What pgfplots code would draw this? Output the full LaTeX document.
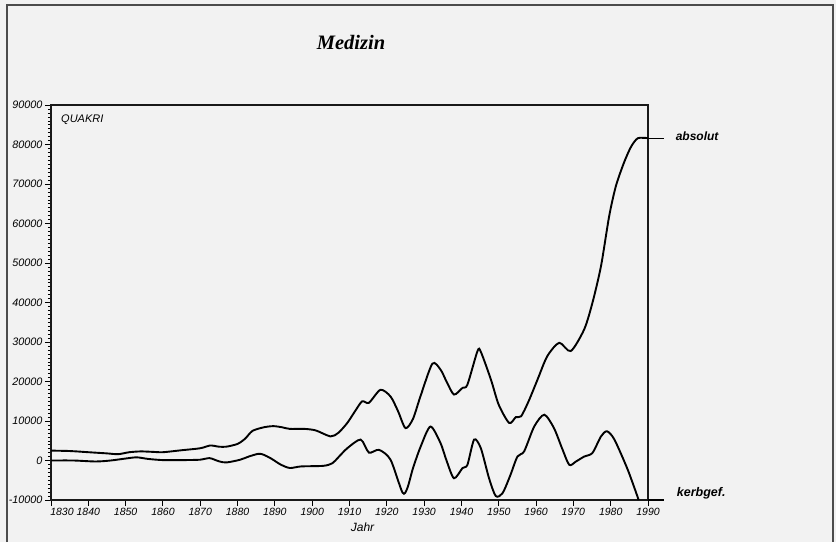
\documentclass[border=0pt]{standalone}
\usepackage{pgfplots}
\pgfplotsset{compat=1.18}
\usepackage{fontspec}
\setmainfont{Liberation Sans}
\newfontfamily\titlefont{Liberation Serif}
\begin{document}
\begin{tikzpicture}[x=1pt,y=1pt]
\useasboundingbox[fill=black!5] (0,0) rectangle (836,542);
\draw[black!70,line width=1.5pt] (7,0) -- (7,537) -- (833,537) -- (833,0);
\node[font=\titlefont\bfseries\itshape\fontsize{20.5}{22}\selectfont] at (351,500) {Medizin};
\begin{axis}[
  at={(51pt,42pt)}, anchor=south west,
  scale only axis, width=597pt, height=395pt,
  xmin=1830, xmax=1990, ymin=-10000, ymax=90000,
  axis line style={line width=1.7pt,black!90},
  xtick={1830,1840,1850,1860,1870,1880,1890,1900,1910,1920,1930,1940,1950,1960,1970,1980,1990},
  xticklabels={\hspace*{22pt}1830,1840,1850,1860,1870,1880,1890,1900,1910,1920,1930,1940,1950,1960,1970,1980,1990},
  ytick={-10000,0,10000,20000,30000,40000,50000,60000,70000,80000,90000},
  yticklabels={-10000,0,10000,20000,30000,40000,50000,60000,70000,80000,90000},
  minor y tick num=9,
  tick align=outside, xtick pos=bottom, ytick pos=left,
  major tick length=6pt, minor tick length=3pt,
  every major tick/.style={line width=0.9pt,black},
  every minor tick/.style={line width=0.5pt,black},
  xticklabel style={font=\itshape\fontsize{10.5}{11}\selectfont, yshift=1pt},
  yticklabel style={font=\itshape\fontsize{10.8}{11}\selectfont, xshift=1pt},
  scaled y ticks=false,
  clip=false,
]
\addplot[black,line width=1.9pt,smooth,tension=0.45] coordinates {
(1830,2500) (1835,2400) (1840,2100) (1845,1800) (1848,1600) (1851,2100) (1854,2300)
(1857,2200) (1860,2100) (1865,2600) (1870,3100) (1872.7,3800) (1875,3500) (1877,3500)
(1880,4200) (1882,5500) (1884,7500) (1887,8400) (1889.6,8700) (1892,8400) (1894,8000)
(1898,8000) (1901,7600) (1904.9,6100) (1907,7000) (1909.4,9500) (1911.5,12500)
(1913.4,15000) (1915.2,14600) (1918.3,17900) (1921,16200) (1923,12500) (1925,8200)
(1927,10500) (1929,16200) (1932.2,24500) (1934.4,23000) (1936,20000) (1938,16700)
(1940.3,18400) (1941.6,19200) (1944.3,27700) (1945.2,27500) (1947.9,20500) (1950,14100)
(1952.8,9500) (1954.6,11000) (1956,11200) (1958,15000) (1960.4,20500) (1963,26400)
(1966.2,29800) (1969.3,27700) (1972.9,33200) (1975.1,39900) (1977.4,49200)
(1979.6,61900) (1981.4,69500) (1983.6,75500) (1985.5,79500) (1987.3,81600) (1990,81600)
};
\addplot[black,line width=1.9pt,smooth,tension=0.45] coordinates {
(1830,0) (1836,0) (1842,-250) (1846,0) (1850,500) (1853,800) (1856,400) (1860,100)
(1865,100) (1870,200) (1872.5,600) (1875,-200) (1877,-500) (1880.7,200) (1883,1000)
(1885.6,1700) (1887,1450) (1889,500) (1891.5,-1000) (1894,-1900) (1897,-1500)
(1903,-1350) (1905.4,-700) (1907,800) (1909.4,3100) (1913,5300) (1915.2,2000)
(1917.9,2700) (1921,200) (1924.2,-8100) (1925.5,-7000) (1927,-2000) (1929.1,3600)
(1931.7,8600) (1934.4,4400) (1936,0) (1938,-4500) (1940.3,-1900) (1941.6,-1100)
(1943.4,5300) (1945.2,3100) (1947.4,-4500) (1949.2,-9000) (1951,-8300) (1953,-4000)
(1955,1000) (1956.8,2300) (1959.5,8600) (1962.2,11600) (1964.8,8200) (1967,3000)
(1968.9,-1100) (1970.7,-250) (1972.9,1000) (1975.1,1900) (1977.4,6100) (1979,7400)
(1981,5300) (1984.6,-2400) (1987.5,-10000)
};
\draw[black,line width=1.7pt] (axis cs:1990,-10000) -- (axis cs:1994.3,-10000);
\draw[black,line width=1.1pt] (axis cs:1988.3,81600) -- (axis cs:1994.3,81600);
\node[anchor=west,font=\bfseries\itshape\fontsize{12}{13}\selectfont] at (axis cs:1996.5,82200) {absolut};
\node[anchor=west,font=\bfseries\itshape\fontsize{12.5}{13}\selectfont] at (axis cs:1996.8,-8200) {kerbgef.};
\node[anchor=west,font=\itshape\fontsize{11}{12}\selectfont] at (axis cs:1831.8,86300) {QUAKRI};
\node[font=\itshape\fontsize{12}{13}\selectfont] at (axis cs:1913.5,-16900) {Jahr};
\end{axis}
\end{tikzpicture}
\end{document}
